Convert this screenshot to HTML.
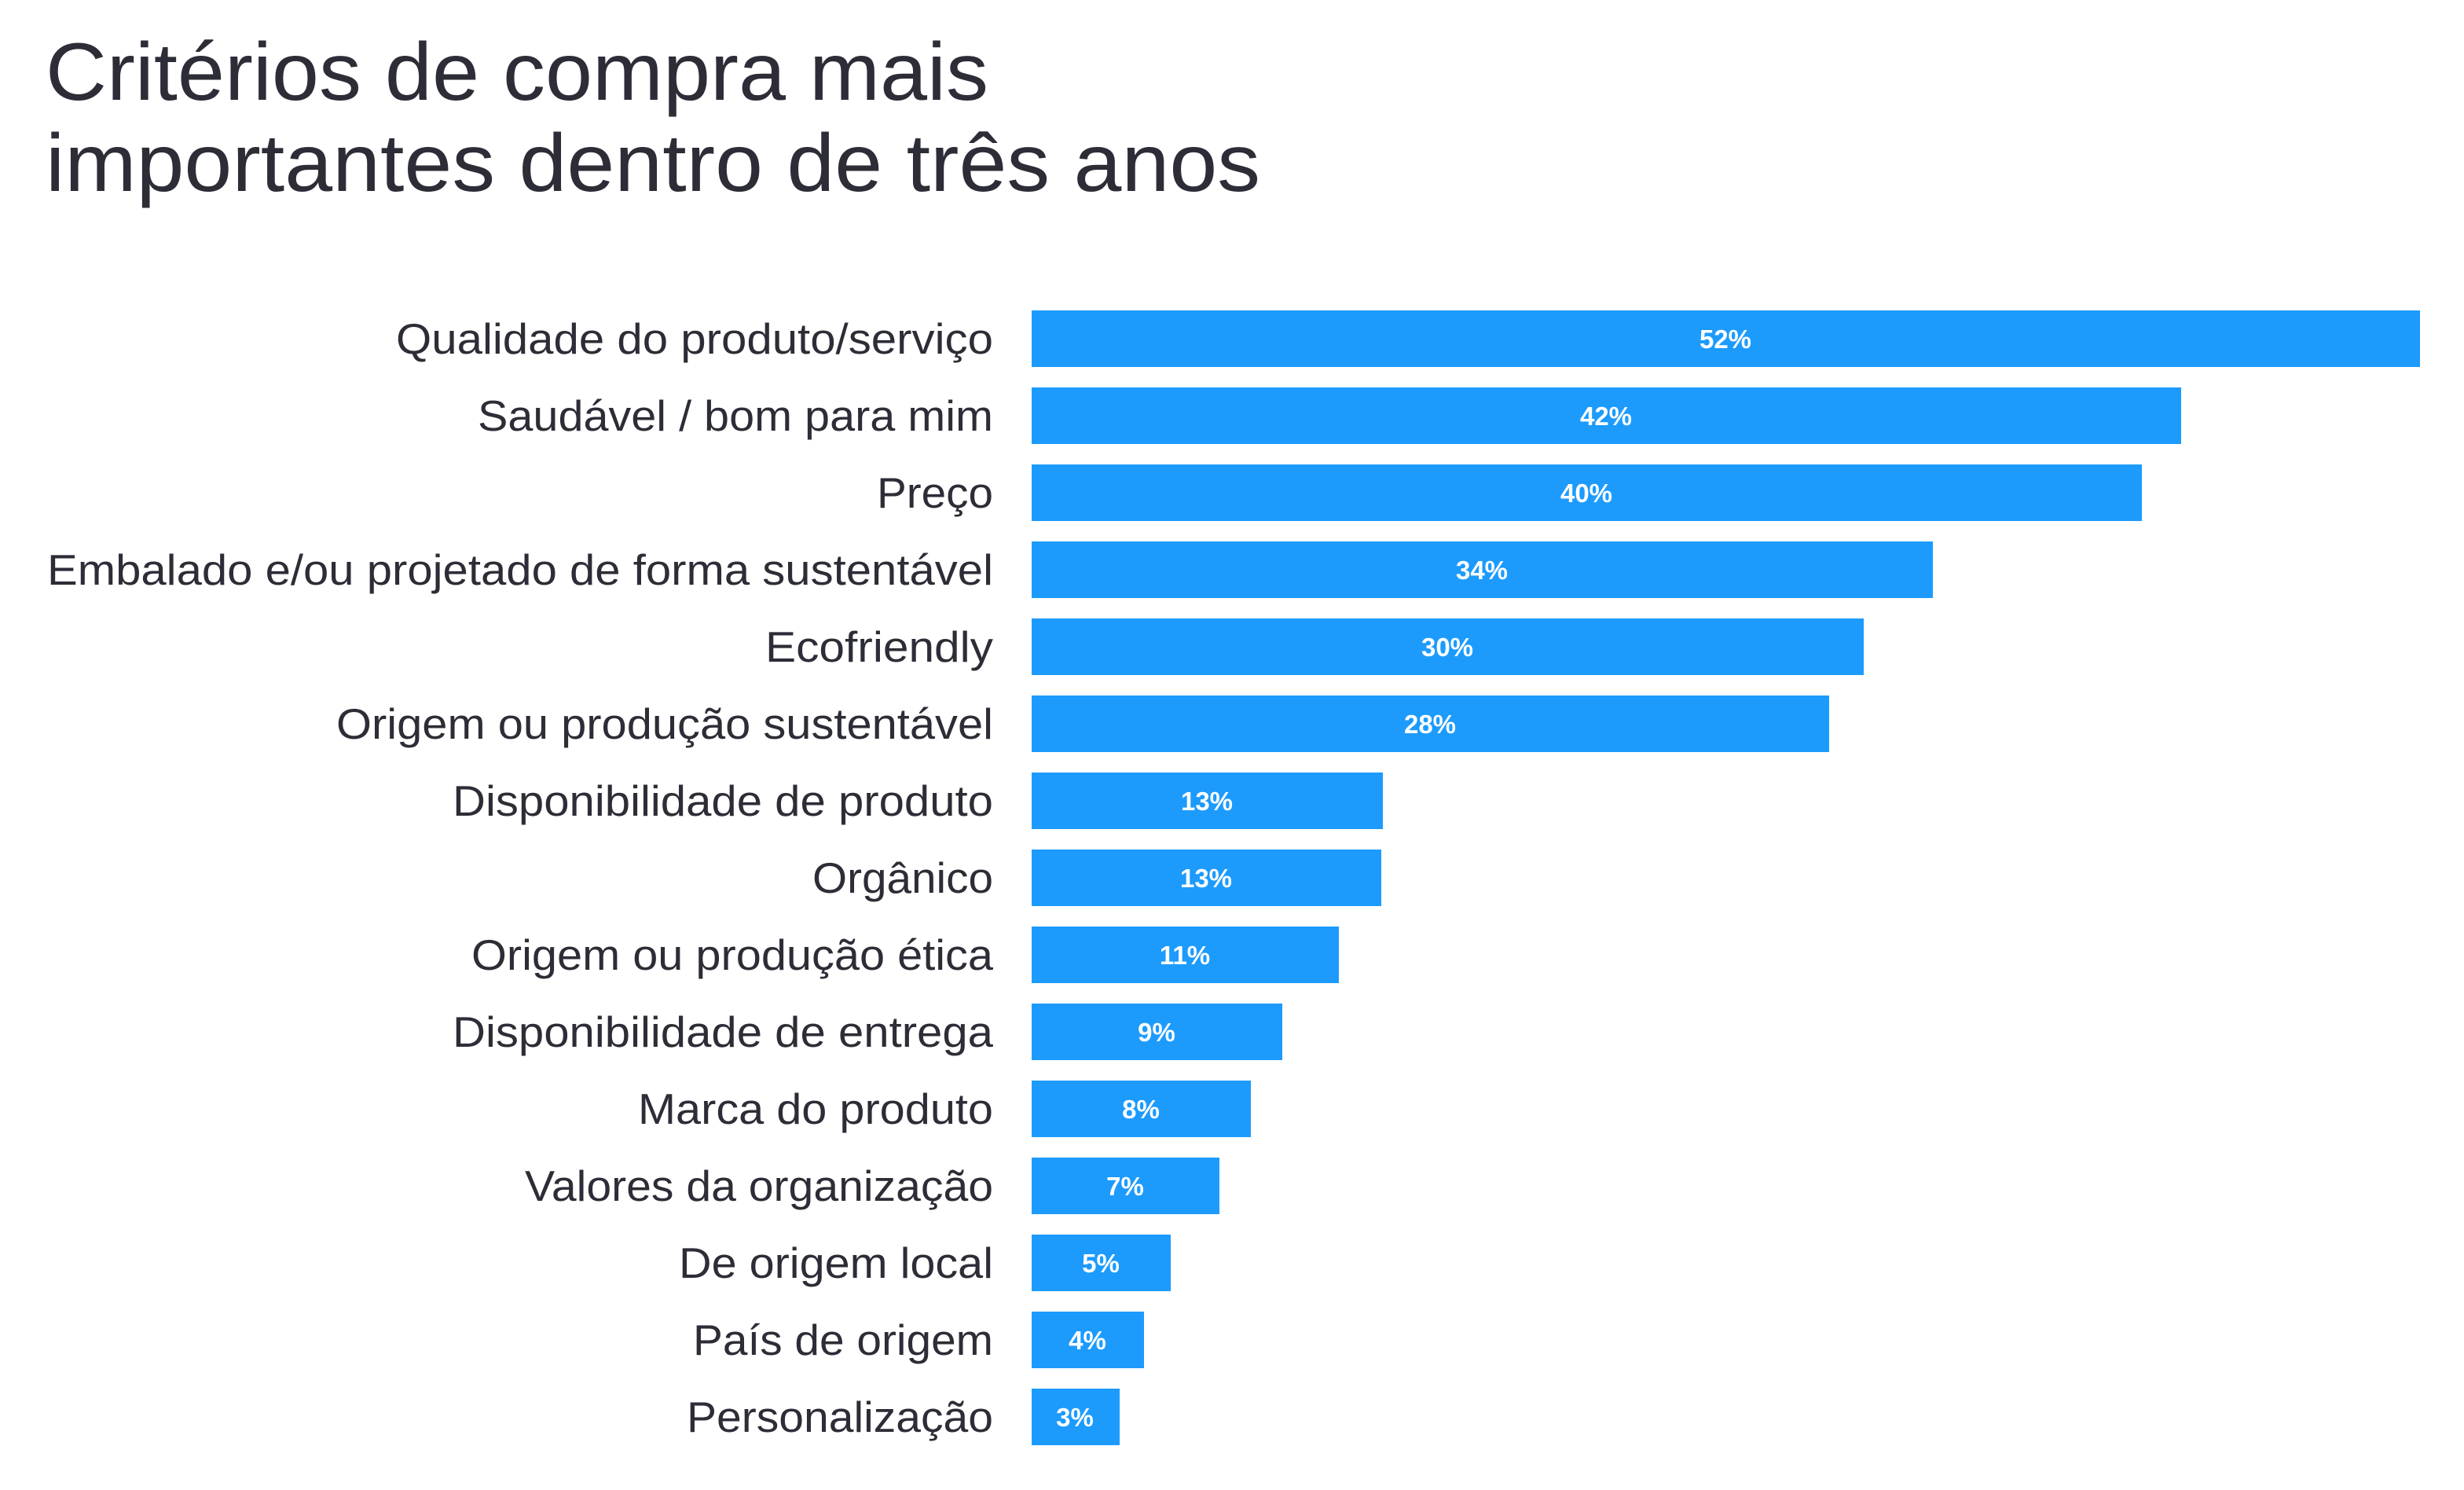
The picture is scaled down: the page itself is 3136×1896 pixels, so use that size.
<!DOCTYPE html>
<html><head><meta charset="utf-8"><style>
html,body{margin:0;padding:0;background:#fff;}
svg{display:block;}
</style></head><body>
<svg width="3136" height="1896" viewBox="0 0 3136 1896" xmlns="http://www.w3.org/2000/svg">
<rect width="3136" height="1896" fill="#fff"/>
<g font-family="Liberation Sans, sans-serif" fill="#2d2d37">
<text x="58" y="127" font-size="104" textLength="1200" lengthAdjust="spacingAndGlyphs">Critérios de compra mais</text>
<text x="58" y="243" font-size="104" textLength="1546" lengthAdjust="spacingAndGlyphs">importantes dentro de três anos</text>
</g>
<g font-family="Liberation Sans, sans-serif" font-size="55" fill="#2d2d37" text-anchor="end">
<text x="1264" y="450" textLength="760" lengthAdjust="spacingAndGlyphs">Qualidade do produto/serviço</text>
<text x="1264" y="548" textLength="656" lengthAdjust="spacingAndGlyphs">Saudável / bom para mim</text>
<text x="1264" y="646" textLength="148" lengthAdjust="spacingAndGlyphs">Preço</text>
<text x="1264" y="744" textLength="1204" lengthAdjust="spacingAndGlyphs">Embalado e/ou projetado de forma sustentável</text>
<text x="1264" y="842" textLength="290" lengthAdjust="spacingAndGlyphs">Ecofriendly</text>
<text x="1264" y="940" textLength="836" lengthAdjust="spacingAndGlyphs">Origem ou produção sustentável</text>
<text x="1264" y="1038" textLength="688" lengthAdjust="spacingAndGlyphs">Disponibilidade de produto</text>
<text x="1264" y="1136" textLength="230" lengthAdjust="spacingAndGlyphs">Orgânico</text>
<text x="1264" y="1234" textLength="664" lengthAdjust="spacingAndGlyphs">Origem ou produção ética</text>
<text x="1264" y="1332" textLength="688" lengthAdjust="spacingAndGlyphs">Disponibilidade de entrega</text>
<text x="1264" y="1430" textLength="452" lengthAdjust="spacingAndGlyphs">Marca do produto</text>
<text x="1264" y="1528" textLength="596" lengthAdjust="spacingAndGlyphs">Valores da organização</text>
<text x="1264" y="1626" textLength="400" lengthAdjust="spacingAndGlyphs">De origem local</text>
<text x="1264" y="1724" textLength="382" lengthAdjust="spacingAndGlyphs">País de origem</text>
<text x="1264" y="1822" textLength="390" lengthAdjust="spacingAndGlyphs">Personalização</text>
</g>
<g fill="#1c9bfd">
<rect x="1313" y="395" width="1767" height="72"/>
<rect x="1313" y="493" width="1463" height="72"/>
<rect x="1313" y="591" width="1413" height="72"/>
<rect x="1313" y="689" width="1147" height="72"/>
<rect x="1313" y="787" width="1059" height="72"/>
<rect x="1313" y="885" width="1015" height="72"/>
<rect x="1313" y="983" width="447" height="72"/>
<rect x="1313" y="1081" width="445" height="72"/>
<rect x="1313" y="1179" width="391" height="72"/>
<rect x="1313" y="1277" width="319" height="72"/>
<rect x="1313" y="1375" width="279" height="72"/>
<rect x="1313" y="1473" width="239" height="72"/>
<rect x="1313" y="1571" width="177" height="72"/>
<rect x="1313" y="1669" width="143" height="72"/>
<rect x="1313" y="1767" width="112" height="72"/>
</g>
<g font-family="Liberation Sans, sans-serif" font-size="33" font-weight="bold" fill="#fff" text-anchor="middle">
<text x="2196" y="443">52%</text>
<text x="2044" y="541">42%</text>
<text x="2019" y="639">40%</text>
<text x="1886" y="737">34%</text>
<text x="1842" y="835">30%</text>
<text x="1820" y="933">28%</text>
<text x="1536" y="1031">13%</text>
<text x="1535" y="1129">13%</text>
<text x="1508" y="1227">11%</text>
<text x="1472" y="1325">9%</text>
<text x="1452" y="1423">8%</text>
<text x="1432" y="1521">7%</text>
<text x="1401" y="1619">5%</text>
<text x="1384" y="1717">4%</text>
<text x="1368" y="1815">3%</text>
</g>
</svg>
</body></html>
